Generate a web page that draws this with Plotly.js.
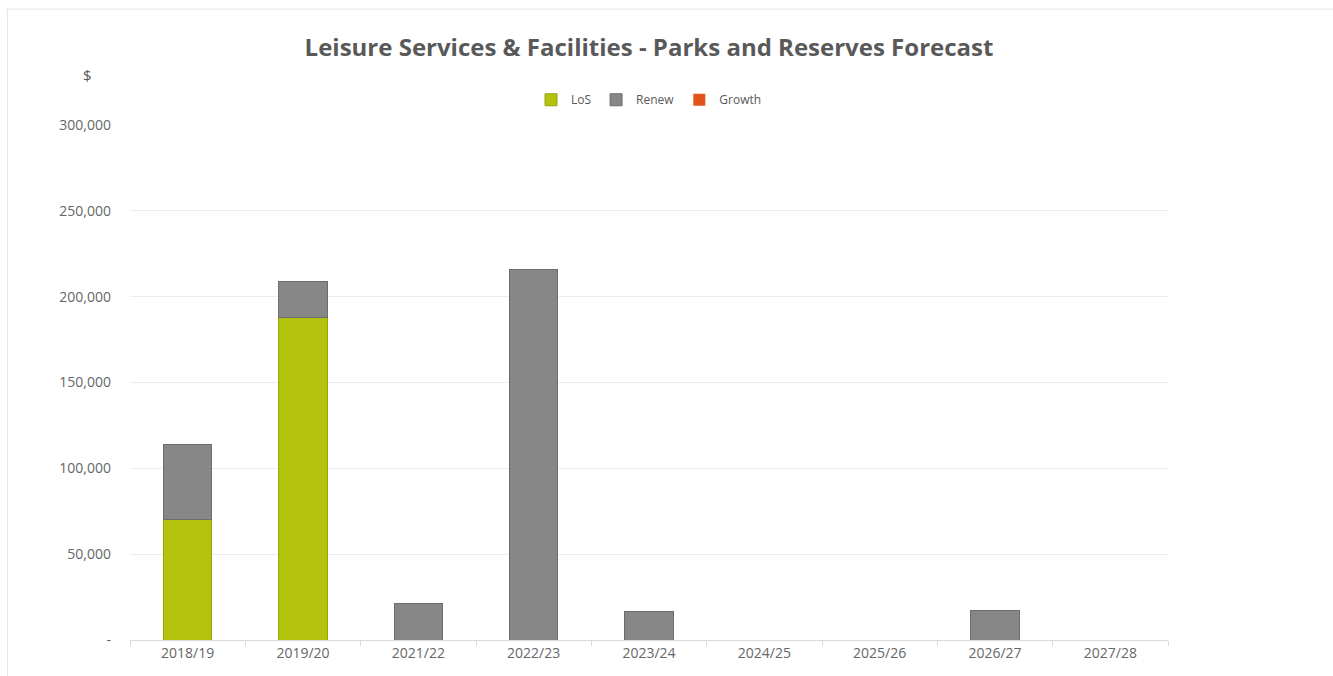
<!DOCTYPE html>
<html>
<head>
<meta charset="utf-8">
<script src="https://cdn.plot.ly/plotly-3.0.1.min.js"></script>
<style>
html,body{margin:0;padding:0;background:#fff;}
#chart{width:1333px;height:676px;}
</style>
</head>
<body>
<div id="chart"></div>
<script>
const categories = ["2018/19","2019/20","2021/22","2022/23","2023/24","2024/25","2025/26","2026/27","2027/28"];
const losValues = [70000, 188000, 0, 0, 0, 0, 0, 0, 0];
const renewValues = [44000, 21000, 21000, 216000, 16500, 0, 0, 17000, 0];
const growthValues = [0, 0, 0, 0, 0, 0, 0, 0, 0];
const yTickValues = [0, 50000, 100000, 150000, 200000, 250000, 300000];
const yTickLabels = ["-", "50,000", "100,000", "150,000", "200,000", "250,000", "300,000"];

const fontFam = "Open Sans, Liberation Sans, sans-serif";
const edge = vals => vals.map(v => v > 0 ? 1 : 0);
const traces = [
  {type:"bar", name:"LoS", x:categories, y:losValues,
   marker:{color:"#b4c40e", line:{width:edge(losValues), color:"#97a50a"}}},
  {type:"bar", name:"Renew", x:categories, y:renewValues,
   marker:{color:"#878787", line:{width:edge(renewValues), color:"#6c6c6c"}}},
  {type:"bar", name:"Growth", x:categories, y:growthValues,
   marker:{color:"#e2541c", line:{width:edge(growthValues), color:"#c04010"}}}
];

const layout = {
  width:1333, height:676,
  paper_bgcolor:"#ffffff", plot_bgcolor:"#ffffff",
  barmode:"stack", bargap:0.58,
  margin:{l:130, r:165, t:125, b:36},
  font:{family:fontFam, color:"#595959", size:12},
  title:{text:"<b>Leisure Services & Facilities - Parks and Reserves Forecast</b>",
    font:{family:fontFam, size:24, color:"#595959"}, x:0.5, xref:"paper", y:0.93, yanchor:"middle"},
  showlegend:true,
  legend:{orientation:"h", x:0.5, xanchor:"center", y:1.049, yanchor:"middle",
    font:{size:12, color:"#595959"}, traceorder:"normal", itemwidth:30},
  xaxis:{type:"category", showgrid:false, showline:true, linecolor:"#d9d9d9", linewidth:1,
    ticks:"outside", tickson:"boundaries", ticklen:5, tickcolor:"#d9d9d9",
    tickfont:{size:14, color:"#666666"}, fixedrange:true},
  yaxis:{range:[0,300000], tickvals:yTickValues, ticktext:yTickLabels,
    showgrid:true, gridcolor:"#ececec", gridwidth:1, zeroline:false,
    showline:false, ticks:"", ticklabelstandoff:18,
    tickfont:{size:14, color:"#666666"}, fixedrange:true},
  annotations:[{text:"$", xref:"paper", yref:"paper", x:-0.0405, y:1.097, xanchor:"center", yanchor:"middle",
    showarrow:false, font:{size:15, color:"#595959"}}],
  shapes:[{type:"line", xref:"paper", yref:"paper", x0:-0.12, x1:1.16, y0:1.225, y1:1.225,
    line:{color:"#e6e6e6", width:1}},
    {type:"line", xref:"paper", yref:"paper", x0:-0.118, x1:-0.118, y0:1.225, y1:-0.07,
    line:{color:"#e6e6e6", width:1}}]
};

Plotly.newPlot("chart", traces, layout, {displayModeBar:false, staticPlot:true});
</script>
</body>
</html>
